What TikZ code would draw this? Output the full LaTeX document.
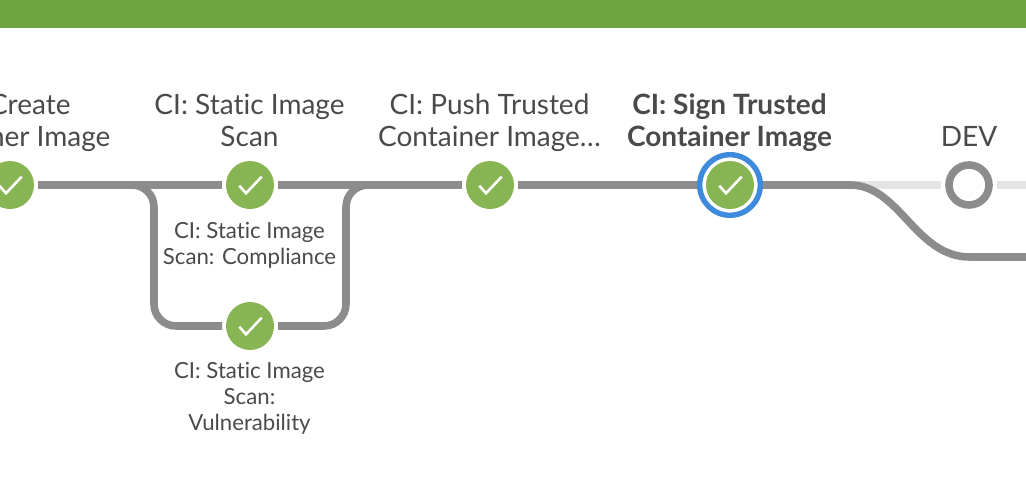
\documentclass[tikz,border=0pt]{standalone}
\usepackage{fontspec}
\setmainfont{Lato}[Ligatures=NoCommon]
\usetikzlibrary{calc}
\definecolor{barGreen}{HTML}{6FA33F}
\definecolor{okGreen}{HTML}{88B553}
\definecolor{flowGray}{HTML}{8C8C8C}
\definecolor{idleGray}{HTML}{E4E4E4}
\definecolor{focusBlue}{HTML}{3E8BDD}
\definecolor{labelText}{HTML}{4A4A4A}
\tikzset{
    stage/.style={circle, minimum size=48pt, inner sep=0pt, outer sep=4pt, fill=okGreen},
    pending/.style={circle, minimum size=40pt, inner sep=0pt, outer sep=7.8pt, draw=flowGray, line width=7.6pt, fill=white},
    focusring/.style={circle, minimum size=60.6pt, inner sep=0pt, outer sep=2.7pt, draw=focusBlue, line width=5.4pt, fill=white},
    flow/.style={draw=flowGray, line width=7.6pt},
    idle/.style={draw=idleGray, line width=7.6pt},
    bigLabel/.style={text=labelText, align=center, anchor=north, inner sep=0pt, font=\fontsize{28}{32}\selectfont},
    smallLabel/.style={text=labelText, align=center, anchor=north, inner sep=0pt, font=\fontsize{22.2}{26}\selectfont},
    tick/.style={draw=white, line width=2.6pt}
}
\newcommand{\tickmark}[1]{\draw[tick] ($(#1)+(-10.7,0.7)$) -- ($(#1)+(-4,8.3)$) -- ($(#1)+(11.7,-8.3)$);}
\begin{document}
\begin{tikzpicture}[x=1pt,y=-1pt]
    \useasboundingbox (0,0) rectangle (1026,490);
    \clip (0,0) rectangle (1026,490);
    % Top bar
    \fill[barGreen] (0,0) rectangle (1026,28);

    % Stages
    \node[stage] (create) at (10,185) {};
    \node[stage] (scan) at (250,185) {};
    \node[stage] (vuln) at (250,326) {};
    \node[stage] (push) at (490,185) {};
    \node[focusring] (signring) at (730,185) {};
    \node[stage] (sign) at (730,185) {};
    \node[pending] (dev) at (969,185) {};
    \tickmark{create} \tickmark{scan} \tickmark{vuln} \tickmark{push} \tickmark{sign}

    % Free ends
    \coordinate (splitL) at (130,185);
    \coordinate (mergeR) at (370,185);
    \coordinate (leave) at (850,185);
    \coordinate (low) at (970,257);
    \coordinate (edgeLow) at (1030,257);
    \coordinate (edgeTop) at (1030,185);

    % Idle line
    \draw[idle] (leave) -- (dev);
    \draw[idle] (dev) -- (edgeTop);

    % Main line
    \draw[flow] (create) -- (scan);
    \draw[flow] (scan) -- (push);
    \draw[flow] (push) -- (signring);
    \draw[flow] (signring) -- (leave) .. controls (900,185) and (915,257) .. (low) -- (edgeLow);

    % Branch
    \draw[flow, rounded corners=22pt] (splitL) -- (154,185) -- (154,326) -- (vuln);
    \draw[flow, rounded corners=22pt] (vuln) -- (346,326) -- (346,185) -- (mergeR);

    % Labels
    \node[bigLabel] (createText) at (9.5,94) {CI: Create\\Container Image};
    \node[bigLabel] (scanText) at (249.5,94) {CI: Static Image\\Scan};
    \node[bigLabel] (pushText) at (489.5,94) {CI: Push Trusted\\Container Image…};
    \node[bigLabel, font=\fontsize{28}{32}\selectfont\bfseries] (signText) at (729.5,93) {CI: Sign Trusted\\Container Image};
    \node[bigLabel] (devText) at (969,126) {DEV};
    \node[smallLabel] (scanSub) at (249.5,222) {CI: Static Image\\Scan: Compliance};
    \node[smallLabel] (vulnSub) at (249.5,362) {CI: Static Image\\Scan:\\Vulnerability};
\end{tikzpicture}
\end{document}
